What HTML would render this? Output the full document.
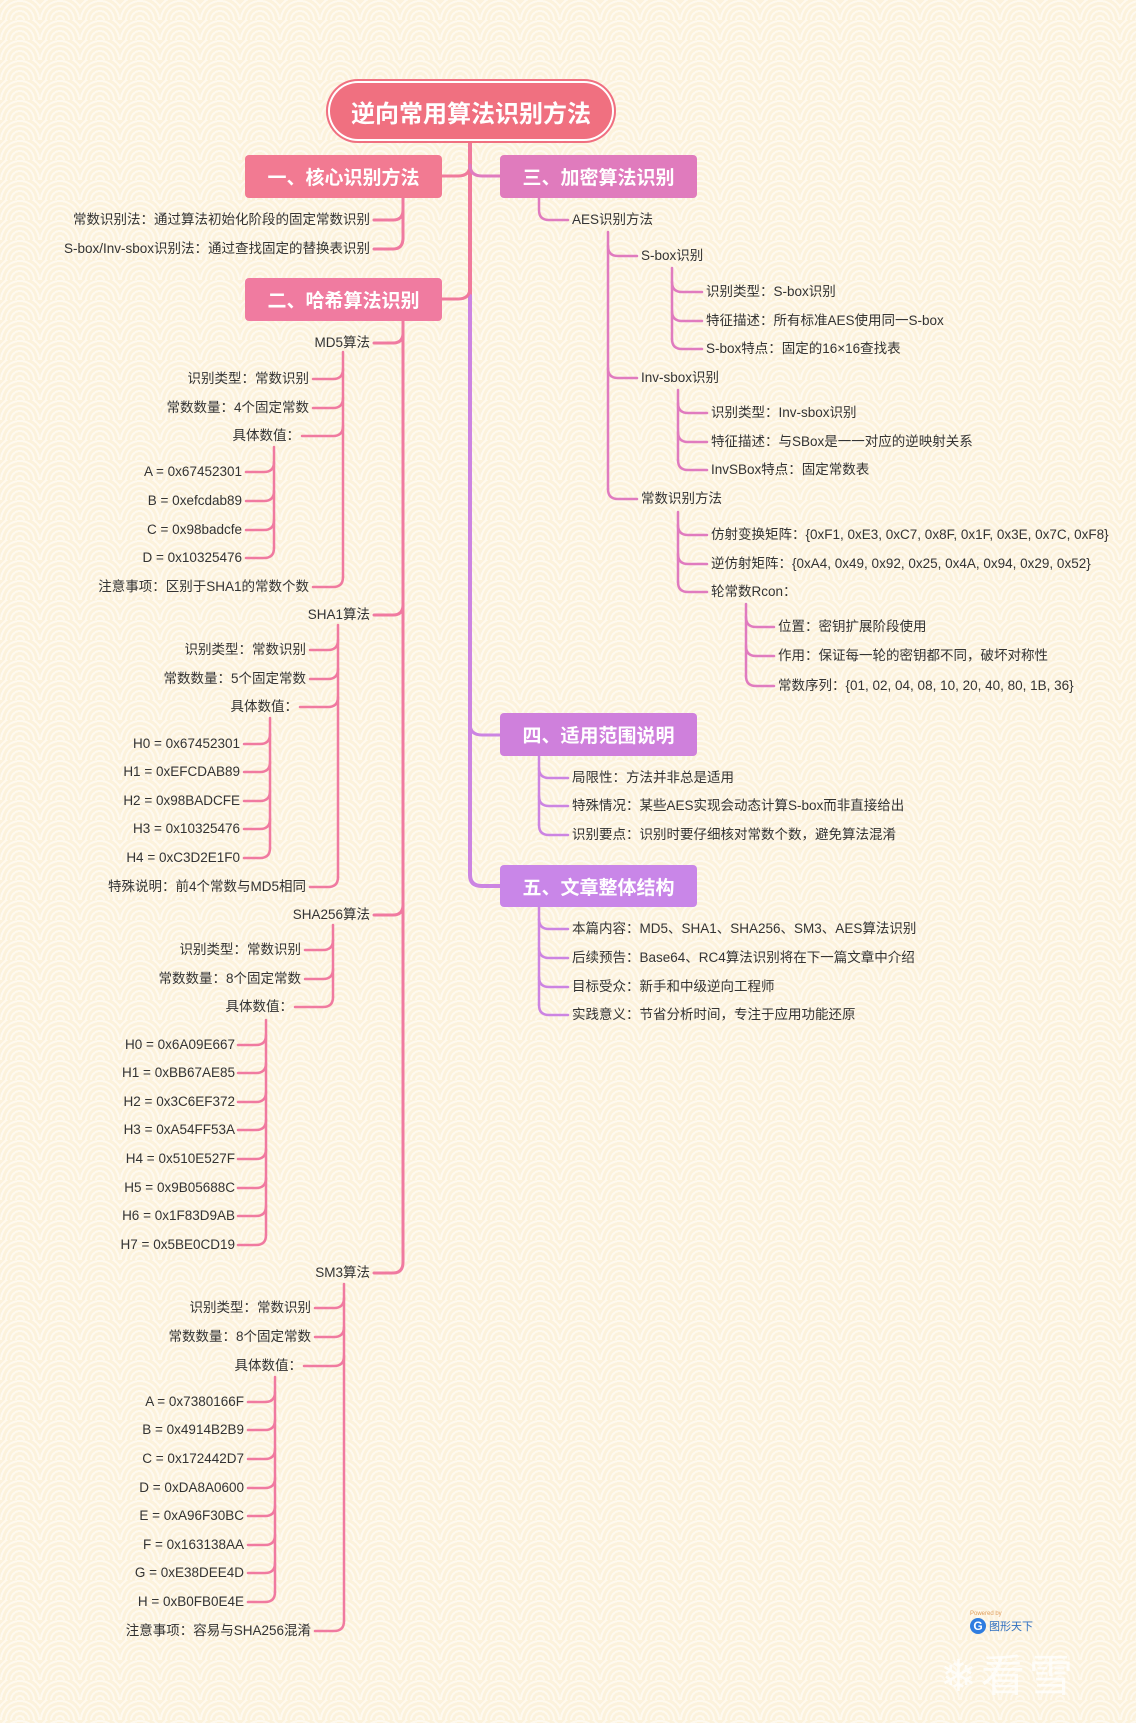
<!DOCTYPE html>
<html><head><meta charset="utf-8">
<style>
html,body{margin:0;padding:0}
body{width:1136px;height:1723px;position:relative;overflow:hidden;background:#fcf2dc;
background-image:repeating-radial-gradient(circle at 50% 100%, rgba(255,255,255,0) 0 3px, rgba(255,255,255,.55) 3px 5px);
background-size:40px 20px;
font-family:"Liberation Sans","Noto Sans CJK SC",sans-serif;color:#333}
.t{position:absolute;font-size:13.5px;line-height:18px;white-space:nowrap;height:18px}
.r{text-align:right}
.box{position:absolute;color:#fff;font-weight:bold;font-size:19px;display:flex;align-items:center;justify-content:center;border-radius:4px}
svg{position:absolute;left:0;top:0}
</style></head><body>
<svg width="1136" height="1723" fill="none" stroke-linecap="round">
<path d="M470 143 V300" stroke="#f07a9c" stroke-width="4"/>
<path d="M470 296 V875 Q470 886 482 886 H500" stroke="#cc84e2" stroke-width="4"/>
<path d="M470 165 Q470 176 458 176 H442" stroke="#f07a9c" stroke-width="3"/>
<path d="M470 165 Q470 176 482 176 H500" stroke="#e07bbf" stroke-width="3"/>
<path d="M470 288 Q470 299 458 299 H442" stroke="#f07a9c" stroke-width="3"/>
<path d="M470 724 Q470 735 482 735 H500" stroke="#cc84e2" stroke-width="3"/>
<g stroke="#f07aa0" stroke-width="3">
<path d="M403 198 V238"/>
<path d="M403 210 Q403 220 393 220 H374"/><path d="M403 238 Q403 249 393 249 H374"/>
<path d="M403 321 V1262"/>
<path d="M403 333 Q403 343 393 343 H374"/><path d="M403 605 Q403 615 393 615 H374"/>
<path d="M403 905 Q403 915 393 915 H374"/><path d="M403 1262 Q403 1273 393 1273 H374"/>
</g>
<g stroke="#f07aa0" stroke-width="2.5">
<path d="M343 352 V577"/>
<path d="M343 369 Q343 379 333 379 H313"/><path d="M343 398 Q343 408 333 408 H313"/>
<path d="M343 426 Q343 436 333 436 H302"/><path d="M343 577 Q343 587 333 587 H313"/>
<path d="M274 447 V548"/>
<path d="M274 462 Q274 472 264 472 H246"/><path d="M274 491 Q274 501 264 501 H246"/>
<path d="M274 520 Q274 530 264 530 H246"/><path d="M274 548 Q274 558 264 558 H246"/>
<path d="M338 625 V877"/>
<path d="M338 640 Q338 650 328 650 H310"/><path d="M338 669 Q338 679 328 679 H310"/>
<path d="M338 697 Q338 707 328 707 H300"/><path d="M338 877 Q338 887 328 887 H310"/>
<path d="M270 718 V848"/>
<path d="M270 734 Q270 744 260 744 H244"/><path d="M270 762 Q270 772 260 772 H244"/>
<path d="M270 791 Q270 801 260 801 H244"/><path d="M270 819 Q270 829 260 829 H244"/>
<path d="M270 848 Q270 858 260 858 H244"/>
<path d="M333 925 V997"/>
<path d="M333 940 Q333 950 323 950 H305"/><path d="M333 969 Q333 979 323 979 H305"/>
<path d="M333 997 Q333 1007 323 1007 H295"/>
<path d="M266 1020 V1235"/>
<path d="M266 1035 Q266 1045 256 1045 H238"/><path d="M266 1063 Q266 1073 256 1073 H238"/>
<path d="M266 1092 Q266 1102 256 1102 H238"/><path d="M266 1120 Q266 1130 256 1130 H238"/>
<path d="M266 1149 Q266 1159 256 1159 H238"/><path d="M266 1178 Q266 1188 256 1188 H238"/>
<path d="M266 1206 Q266 1216 256 1216 H238"/><path d="M266 1235 Q266 1245 256 1245 H238"/>
<path d="M344 1284 V1621"/>
<path d="M344 1298 Q344 1308 334 1308 H315"/><path d="M344 1327 Q344 1337 334 1337 H315"/>
<path d="M344 1356 Q344 1366 334 1366 H304"/><path d="M344 1621 Q344 1631 334 1631 H315"/>
<path d="M275 1377 V1592"/>
<path d="M275 1392 Q275 1402 265 1402 H248"/><path d="M275 1420 Q275 1430 265 1430 H248"/>
<path d="M275 1449 Q275 1459 265 1459 H248"/><path d="M275 1478 Q275 1488 265 1488 H248"/>
<path d="M275 1506 Q275 1516 265 1516 H248"/><path d="M275 1535 Q275 1545 265 1545 H248"/>
<path d="M275 1563 Q275 1573 265 1573 H248"/><path d="M275 1592 Q275 1602 265 1602 H248"/>
</g>
<g stroke="#e07bbf" stroke-width="2.5">
<path d="M539 198 V210 Q539 220 549 220 H568"/>
<path d="M608 232 V489"/>
<path d="M608 246 Q608 256 618 256 H637"/><path d="M608 368 Q608 378 618 378 H637"/>
<path d="M608 489 Q608 499 618 499 H637"/>
<path d="M672 268 V339"/>
<path d="M672 282 Q672 292 682 292 H702"/><path d="M672 311 Q672 321 682 321 H702"/>
<path d="M672 339 Q672 349 682 349 H702"/>
<path d="M678 390 V460"/>
<path d="M678 403 Q678 413 688 413 H707"/><path d="M678 432 Q678 442 688 442 H707"/>
<path d="M678 460 Q678 470 688 470 H707"/>
<path d="M678 512 V582"/>
<path d="M678 525 Q678 535 688 535 H707"/><path d="M678 554 Q678 564 688 564 H707"/>
<path d="M678 582 Q678 592 688 592 H707"/>
<path d="M746 604 V676"/>
<path d="M746 617 Q746 627 756 627 H774"/><path d="M746 646 Q746 656 756 656 H774"/>
<path d="M746 676 Q746 686 756 686 H774"/>
</g>
<g stroke="#cc84e2" stroke-width="2.5">
<path d="M539 756 V825"/>
<path d="M539 768 Q539 778 549 778 H568"/><path d="M539 796 Q539 806 549 806 H568"/>
<path d="M539 825 Q539 835 549 835 H568"/>
<path d="M539 907 V1005"/>
<path d="M539 919 Q539 929 549 929 H568"/><path d="M539 948 Q539 958 549 958 H568"/>
<path d="M539 977 Q539 987 549 987 H568"/><path d="M539 1005 Q539 1015 549 1015 H568"/>
</g>
</svg>

<div class="box" style="left:326px;top:79px;width:290px;height:64px;border-radius:32px;background:#f07080;box-shadow:inset 0 0 0 2px #f07080,inset 0 0 0 4px #fff;font-size:24px">逆向常用算法识别方法</div>
<div class="box" style="left:245px;top:155px;width:197px;height:43px;background:#f27a92">一、核心识别方法</div>
<div class="box" style="left:500px;top:155px;width:197px;height:43px;background:#e07bbd">三、加密算法识别</div>
<div class="box" style="left:245px;top:278px;width:197px;height:43px;background:#f07ba0">二、哈希算法识别</div>
<div class="box" style="left:500px;top:713px;width:197px;height:43px;background:#cf80dc">四、适用范围说明</div>
<div class="box" style="left:500px;top:865px;width:197px;height:42px;background:#c986e8">五、文章整体结构</div>

<div class="t r" style="right:766px;top:211px">常数识别法：通过算法初始化阶段的固定常数识别</div>
<div class="t r" style="right:766px;top:240px">S-box/Inv-sbox识别法：通过查找固定的替换表识别</div>
<div class="t r" style="right:766px;top:334px">MD5算法</div>
<div class="t r" style="right:827px;top:370px">识别类型：常数识别</div>
<div class="t r" style="right:827px;top:399px">常数数量：4个固定常数</div>
<div class="t r" style="right:836px;top:427px">具体数值：</div>
<div class="t r" style="right:894px;top:463px">A = 0x67452301</div>
<div class="t r" style="right:894px;top:492px">B = 0xefcdab89</div>
<div class="t r" style="right:894px;top:521px">C = 0x98badcfe</div>
<div class="t r" style="right:894px;top:549px">D = 0x10325476</div>
<div class="t r" style="right:827px;top:578px">注意事项：区别于SHA1的常数个数</div>
<div class="t r" style="right:766px;top:606px">SHA1算法</div>
<div class="t r" style="right:830px;top:641px">识别类型：常数识别</div>
<div class="t r" style="right:830px;top:670px">常数数量：5个固定常数</div>
<div class="t r" style="right:838px;top:698px">具体数值：</div>
<div class="t r" style="right:896px;top:735px">H0 = 0x67452301</div>
<div class="t r" style="right:896px;top:763px">H1 = 0xEFCDAB89</div>
<div class="t r" style="right:896px;top:792px">H2 = 0x98BADCFE</div>
<div class="t r" style="right:896px;top:820px">H3 = 0x10325476</div>
<div class="t r" style="right:896px;top:849px">H4 = 0xC3D2E1F0</div>
<div class="t r" style="right:830px;top:878px">特殊说明：前4个常数与MD5相同</div>
<div class="t r" style="right:766px;top:906px">SHA256算法</div>
<div class="t r" style="right:835px;top:941px">识别类型：常数识别</div>
<div class="t r" style="right:835px;top:970px">常数数量：8个固定常数</div>
<div class="t r" style="right:843px;top:998px">具体数值：</div>
<div class="t r" style="right:901px;top:1036px">H0 = 0x6A09E667</div>
<div class="t r" style="right:901px;top:1064px">H1 = 0xBB67AE85</div>
<div class="t r" style="right:901px;top:1093px">H2 = 0x3C6EF372</div>
<div class="t r" style="right:901px;top:1121px">H3 = 0xA54FF53A</div>
<div class="t r" style="right:901px;top:1150px">H4 = 0x510E527F</div>
<div class="t r" style="right:901px;top:1179px">H5 = 0x9B05688C</div>
<div class="t r" style="right:901px;top:1207px">H6 = 0x1F83D9AB</div>
<div class="t r" style="right:901px;top:1236px">H7 = 0x5BE0CD19</div>
<div class="t r" style="right:766px;top:1264px">SM3算法</div>
<div class="t r" style="right:825px;top:1299px">识别类型：常数识别</div>
<div class="t r" style="right:825px;top:1328px">常数数量：8个固定常数</div>
<div class="t r" style="right:834px;top:1357px">具体数值：</div>
<div class="t r" style="right:892px;top:1393px">A = 0x7380166F</div>
<div class="t r" style="right:892px;top:1421px">B = 0x4914B2B9</div>
<div class="t r" style="right:892px;top:1450px">C = 0x172442D7</div>
<div class="t r" style="right:892px;top:1479px">D = 0xDA8A0600</div>
<div class="t r" style="right:892px;top:1507px">E = 0xA96F30BC</div>
<div class="t r" style="right:892px;top:1536px">F = 0x163138AA</div>
<div class="t r" style="right:892px;top:1564px">G = 0xE38DEE4D</div>
<div class="t r" style="right:892px;top:1593px">H = 0xB0FB0E4E</div>
<div class="t r" style="right:825px;top:1622px">注意事项：容易与SHA256混淆</div>

<div class="t" style="left:572px;top:211px">AES识别方法</div>
<div class="t" style="left:641px;top:247px">S-box识别</div>
<div class="t" style="left:706px;top:283px">识别类型：S-box识别</div>
<div class="t" style="left:706px;top:312px">特征描述：所有标准AES使用同一S-box</div>
<div class="t" style="left:706px;top:340px">S-box特点：固定的16×16查找表</div>
<div class="t" style="left:641px;top:369px">Inv-sbox识别</div>
<div class="t" style="left:711px;top:404px">识别类型：Inv-sbox识别</div>
<div class="t" style="left:711px;top:433px">特征描述：与SBox是一一对应的逆映射关系</div>
<div class="t" style="left:711px;top:461px">InvSBox特点：固定常数表</div>
<div class="t" style="left:641px;top:490px">常数识别方法</div>
<div class="t" style="left:711px;top:526px">仿射变换矩阵：{0xF1, 0xE3, 0xC7, 0x8F, 0x1F, 0x3E, 0x7C, 0xF8}</div>
<div class="t" style="left:711px;top:555px">逆仿射矩阵：{0xA4, 0x49, 0x92, 0x25, 0x4A, 0x94, 0x29, 0x52}</div>
<div class="t" style="left:711px;top:583px">轮常数Rcon：</div>
<div class="t" style="left:778px;top:618px">位置：密钥扩展阶段使用</div>
<div class="t" style="left:778px;top:647px">作用：保证每一轮的密钥都不同，破坏对称性</div>
<div class="t" style="left:778px;top:677px">常数序列：{01, 02, 04, 08, 10, 20, 40, 80, 1B, 36}</div>
<div class="t" style="left:572px;top:769px">局限性：方法并非总是适用</div>
<div class="t" style="left:572px;top:797px">特殊情况：某些AES实现会动态计算S-box而非直接给出</div>
<div class="t" style="left:572px;top:826px">识别要点：识别时要仔细核对常数个数，避免算法混淆</div>
<div class="t" style="left:572px;top:920px">本篇内容：MD5、SHA1、SHA256、SM3、AES算法识别</div>
<div class="t" style="left:572px;top:949px">后续预告：Base64、RC4算法识别将在下一篇文章中介绍</div>
<div class="t" style="left:572px;top:978px">目标受众：新手和中级逆向工程师</div>
<div class="t" style="left:572px;top:1006px">实践意义：节省分析时间，专注于应用功能还原</div>

<div style="position:absolute;left:970px;top:1611px;font-size:6px;color:#e0a060">Powered by</div>
<div style="position:absolute;left:970px;top:1618px;width:16px;height:16px;border-radius:50%;background:#2f7de0;color:#fff;font-size:12px;font-weight:bold;text-align:center;line-height:16px">G</div>
<div style="position:absolute;left:989px;top:1618px;font-size:11px;color:#2f6fc0">图形天下</div>
<div style="position:absolute;left:940px;top:1640px;font-size:44px;color:rgba(255,255,255,.75);letter-spacing:4px">❄看雪</div>
</body></html>
